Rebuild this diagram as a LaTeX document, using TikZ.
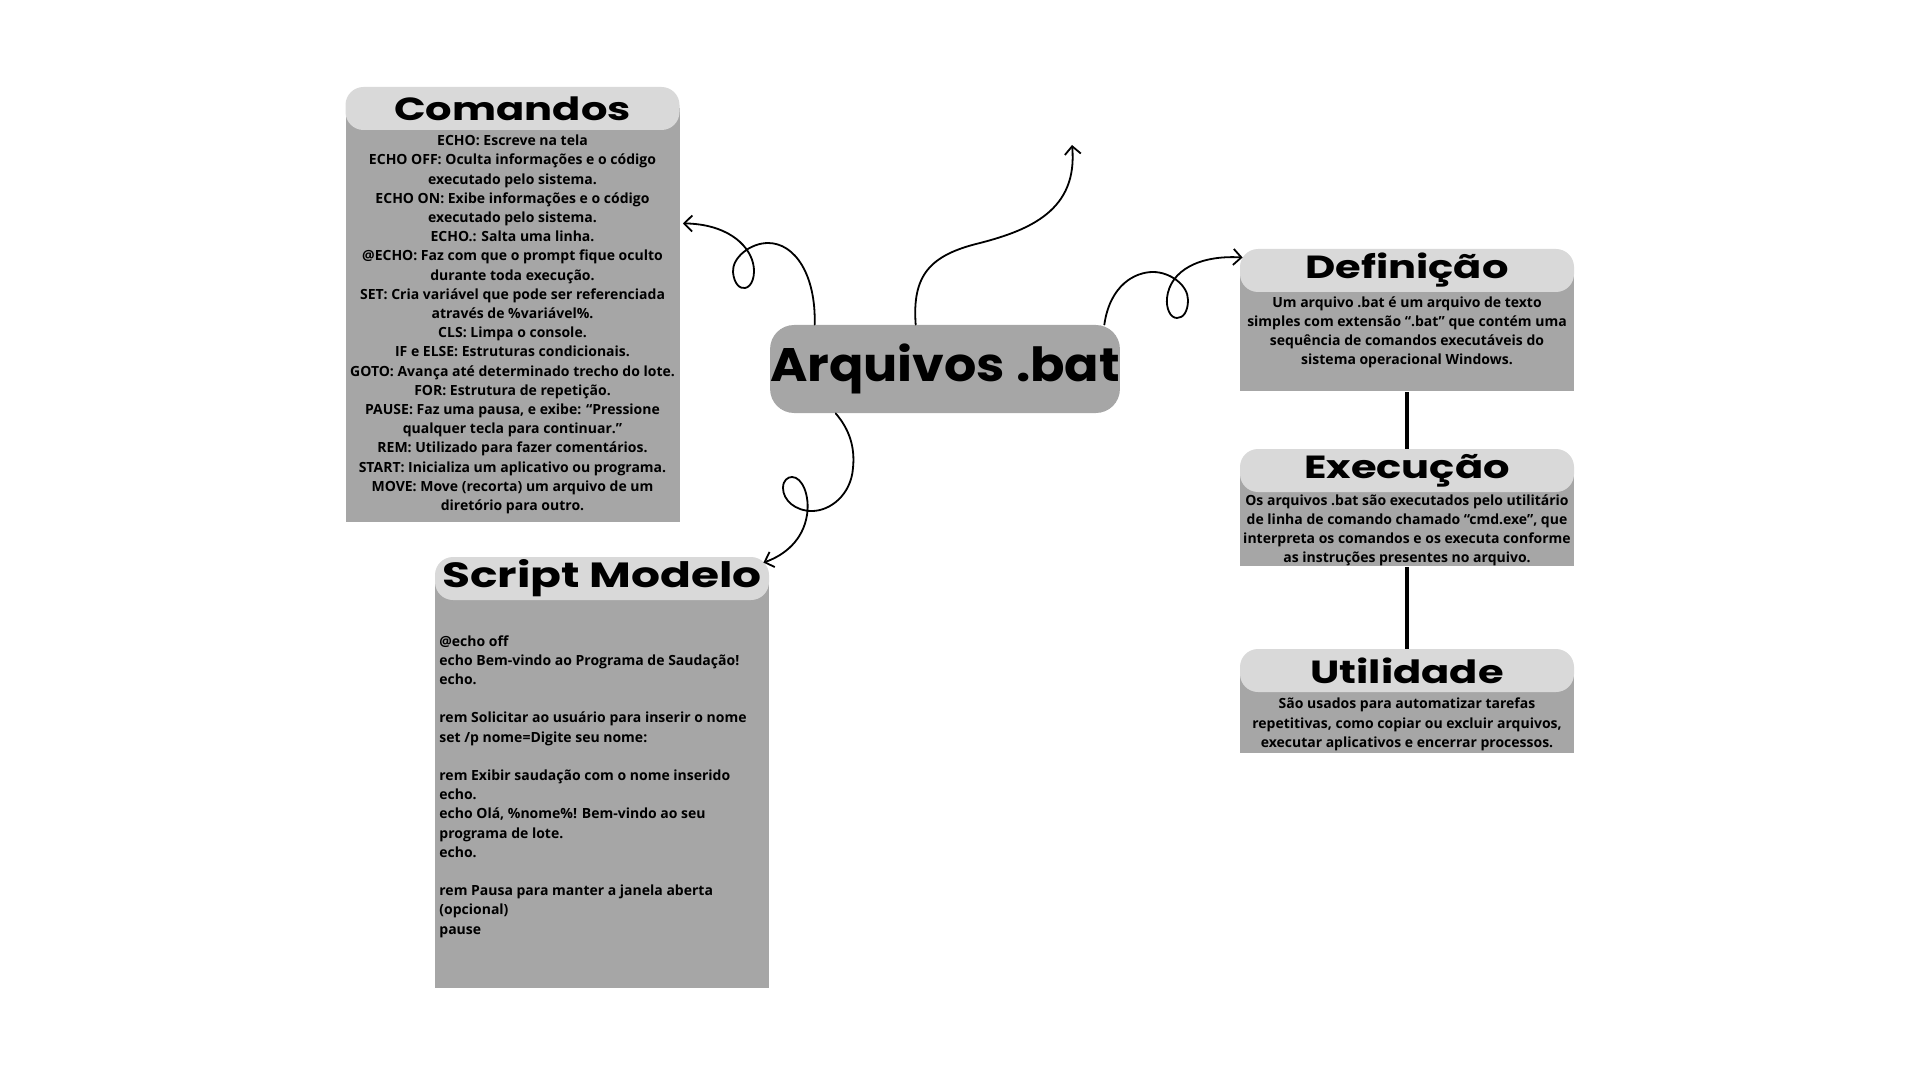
\documentclass[tikz,border=0pt]{standalone}
\usepackage{fontspec}
\usepackage{tikz}
\usetikzlibrary{positioning,arrows.meta,calc}
\newfontfamily\bodyfont{Open Sans}
\newfontfamily\headfont{Poppins}[FakeStretch=1.3]
\newfontfamily\centfont{Poppins}[FakeStretch=1.08]
\definecolor{boxgray}{HTML}{A6A6A6}
\definecolor{headgray}{HTML}{D9D9D9}

\begin{document}
\begin{tikzpicture}[
  x=0.5pt, y=-0.5pt,
  body/.style={fill=boxgray, minimum width=167pt, inner sep=0pt, anchor=north},
  head/.style={fill=headgray, rounded corners=9pt, minimum width=167pt, minimum height=21.5pt, inner sep=0pt, font={\headfont\bfseries\fontsize{16}{16}\selectfont}},
  central/.style={fill=boxgray, rounded corners=12pt, minimum width=174pt, minimum height=44pt, inner sep=0pt, font={\centfont\bfseries\fontsize{23.5}{23.5}\selectfont}},
  txt/.style={font={\bodyfont\bfseries\fontsize{7}{9.6}\selectfont}, align=center, inner sep=0pt},
  curl/.style={draw, line width=0.9pt, line cap=round, -{Straight Barb[length=4pt,width=8pt]}},
  link/.style={draw, line width=2pt}
]
\useasboundingbox (0,0) rectangle (1920,1080);

\node[body, minimum height=207pt] (comBox) at (512.5,108) {};
\node[body, minimum height=205pt] (scrBox) at (602,578) {};
\node[body, minimum height=60.5pt] (defBox) at (1407,270) {};
\node[body, minimum height=48pt] (exeBox) at (1407,470) {};
\node[body, minimum height=41.5pt] (utiBox) at (1407,670) {};

\node[head] (comHead) at (512.5,108.5) {Comandos};
\node[head] (scrHead) at (602,578.5) {\fontsize{17.5}{17.5}\selectfont Script Modelo};
\node[head] (defHead) at (1407,270.5) {Definição};
\node[head] (exeHead) at (1407,470.5) {Execução};
\node[head] (utiHead) at (1407,670.5) {Utilidade};

\node[central] (arq) at (945,369) {\raisebox{-2.5pt}{Arquivos .bat}};

\node[txt] (comTxt) at (512.5,324.5) {ECHO: Escreve na tela\\
ECHO OFF: Oculta informações e o código\\
executado pelo sistema.\\
ECHO ON: Exibe informações e o código\\
executado pelo sistema.\\
ECHO.: Salta uma linha.\\
@ECHO: Faz com que o prompt fique oculto\\
durante toda execução.\\
SET: Cria variável que pode ser referenciada\\
através de \%variável\%.\\
CLS: Limpa o console.\\
IF e ELSE: Estruturas condicionais.\\
GOTO: Avança até determinado trecho do lote.\\
FOR: Estrutura de repetição.\\
PAUSE: Faz uma pausa, e exibe: “Pressione\\
qualquer tecla para continuar.”\\
REM: Utilizado para fazer comentários.\\
START: Inicializa um aplicativo ou programa.\\
MOVE: Move (recorta) um arquivo de um\\
diretório para outro.};

\node[txt, align=left, anchor=north west] (scrTxt) at (439,635) {@echo off\\
echo Bem-vindo ao Programa de Saudação!\\
echo.\\[9.6pt]
rem Solicitar ao usuário para inserir o nome\\
set /p nome=Digite seu nome:\\[9.6pt]
rem Exibir saudação com o nome inserido\\
echo.\\
echo Olá, \%nome\%! Bem-vindo ao seu\\
programa de lote.\\
echo.\\[9.6pt]
rem Pausa para manter a janela aberta\\
(opcional)\\
pause};

\node[txt] (defTxt) at (1407,332.5) {Um arquivo .bat é um arquivo de texto\\
simples com extensão “.bat” que contém uma\\
sequência de comandos executáveis do\\
sistema operacional Windows.};

\node[txt] (exeTxt) at (1407,530.5) {Os arquivos .bat são executados pelo utilitário\\
de linha de comando chamado “cmd.exe”, que\\
interpreta os comandos e os executa conforme\\
as instruções presentes no arquivo.};

\node[txt] (utiTxt) at (1407,724.5) {São usados para automatizar tarefas\\
repetitivas, como copiar ou excluir arquivos,\\
executar aplicativos e encerrar processos.};

\draw[link] (defBox.south) -- (exeHead.north);
\draw[link] (exeBox.south) -- (utiHead.north);

\coordinate (topEnd) at (1072,145);

\draw[curl] ($(arq.north west)+(45,0)$) .. controls (816,275) and (795,243) .. (768,243)
  .. controls (750,243) and (732,258) .. (733,272)
  .. controls (734,284) and (740,289) .. (745,288)
  .. controls (752,287) and (756,275) .. (753,263)
  .. controls (748,243) and (725,224) .. ($(comBox.east)+(3,-92)$);
\draw[curl] ($(arq.south west)+(66,0)$) .. controls (850,430) and (855,448) .. (853,468)
  .. controls (851,495) and (830,511) .. (812,511)
  .. controls (795,511) and (783,500) .. (783,488)
  .. controls (783,480) and (788,477) .. (792,477)
  .. controls (802,477) and (810,495) .. (807,515)
  .. controls (803,540) and (785,555) .. ($(scrHead.north east)+(-6,6)$);
\draw[curl] ($(arq.north west)+(146,0)$) .. controls (912,275) and (930,255) .. (980,243)
  .. controls (1030,230) and (1078,210) .. (topEnd);
\draw[curl] ($(arq.north east)+(-16,0)$) .. controls (1110,285) and (1135,272) .. (1153,272)
  .. controls (1170,272) and (1188,285) .. (1188,300)
  .. controls (1188,312) and (1183,318) .. (1177,318)
  .. controls (1170,318) and (1166,308) .. (1167,298)
  .. controls (1170,270) and (1200,255) .. ($(defHead.west)+(3,-13)$);

\end{tikzpicture}
\end{document}
